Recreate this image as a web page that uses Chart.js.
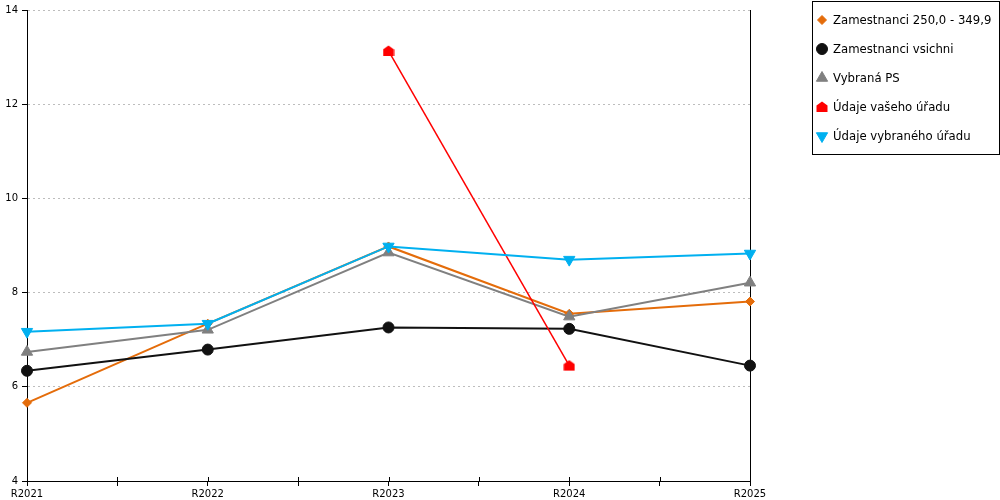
<!DOCTYPE html>
<html>
<head>
<meta charset="utf-8">
<script src="https://cdn.jsdelivr.net/npm/chart.js@4/dist/chart.umd.min.js"></script>
<style>
    body { margin: 0; background: #fff; }
    #wrap { width: 1000px; height: 500px; position: relative; }
</style>
</head>
<body>
<div id="wrap"><canvas id="chart"></canvas></div>
<script>
// Chart values
var categories = ['R2021', 'R2022', 'R2023', 'R2024', 'R2025'];
var zamestnanci250 = [5.66, 7.34, 8.98, 7.55, 7.81];
var zamestnanciVsichni = [6.34, 6.79, 7.26, 7.23, 6.45];
var vybranaPS = [6.74, 7.21, 8.85, 7.49, 8.21];
var udajeVasehoUradu = [null, null, 13.13, 6.45, null];
var udajeVybranehoUradu = [7.17, 7.34, 8.98, 8.70, 8.83];
var yTicks = { min: 4, max: 14, step: 2 };

// Small pentagon ("house") marker for the red series
function houseMarker(color) {
    var c = document.createElement('canvas');
    c.width = 12;
    c.height = 12;
    var g = c.getContext('2d');
    g.fillStyle = color;
    g.beginPath();
    g.moveTo(6, 0.5);
    g.lineTo(11.5, 4.5);
    g.lineTo(11.5, 11);
    g.lineTo(0.5, 11);
    g.lineTo(0.5, 4.5);
    g.closePath();
    g.fill();
    return c;
}

// Turns a plain value list into points for the linear x scale
function toPoints(values) {
    return values.map((v, i) => ({ x: i, y: v }));
}

function series(label, values, color, style, radius, rotation, order, width) {
    return {
        label: label,
        data: toPoints(values),
        borderColor: color,
        backgroundColor: color,
        borderWidth: width,
        pointStyle: style,
        pointRadius: radius,
        pointHoverRadius: radius,
        pointRotation: rotation,
        pointBackgroundColor: color,
        pointBorderColor: color,
        pointBorderWidth: 1,
        tension: 0,
        spanGaps: false,
        clip: false,
        order: order
    };
}

var datasets = [
    series('Zamestnanci 250,0 - 349,9', zamestnanci250, '#e46c0a', 'rectRot', 4.5, 0, 5, 2),
    series('Zamestnanci vsichni', zamestnanciVsichni, '#111111', 'circle', 5.5, 0, 4, 2),
    series('Vybraná PS', vybranaPS, '#808080', 'triangle', 6.5, 0, 3, 2),
    series('Údaje vašeho úřadu', udajeVasehoUradu, '#ff0000', houseMarker('#ff0000'), 6, 0, 2, 1.5),
    series('Údaje vybraného úřadu', udajeVybranehoUradu, '#00b0f0', 'triangle', 6.5, 180, 1, 2)
];

// Draws the frame line on the right, the upper half of the x ticks and the boxed legend
var decorations = {
    id: 'decorations',
    beforeDatasetsDraw(chart) {
        var ctx = chart.ctx;
        var area = chart.chartArea;
        ctx.save();
        ctx.strokeStyle = '#000';
        ctx.lineWidth = 1;

        // right frame line
        ctx.beginPath();
        ctx.moveTo(Math.round(area.right) + 0.5, area.top);
        ctx.lineTo(Math.round(area.right) + 0.5, area.bottom);
        ctx.stroke();

        // x ticks cross the axis line
        var xs = chart.scales.x;
        xs.ticks.forEach((t, i) => {
            var px = Math.round(xs.getPixelForTick(i)) + 0.5;
            ctx.beginPath();
            ctx.moveTo(px, area.bottom - 4);
            ctx.lineTo(px, area.bottom);
            ctx.stroke();
        });
        ctx.restore();
    },
    afterDraw(chart) {
        var ctx = chart.ctx;
        ctx.save();
        ctx.strokeStyle = '#000';
        ctx.lineWidth = 1;

        // legend box
        ctx.strokeRect(812.5, 1.5, 187, 153);
        ctx.font = '11.7px "DejaVu Sans", Verdana, sans-serif';
        ctx.textBaseline = 'middle';
        chart.data.datasets.forEach((ds, i) => {
            var y = 20 + i * 29;
            ctx.fillStyle = ds.pointBackgroundColor;
            ctx.strokeStyle = ds.pointBorderColor;
            Chart.helpers.drawPoint(ctx, {
                pointStyle: ds.pointStyle,
                rotation: ds.pointRotation,
                radius: ds.pointRadius,
                borderWidth: 1
            }, 822, y);
            ctx.fillStyle = '#000';
            ctx.fillText(ds.label, 833, y + 1);
        });
        ctx.restore();
    }
};

Chart.defaults.color = '#000';
Chart.defaults.font.family = '"DejaVu Sans", Verdana, sans-serif';
Chart.defaults.font.size = 10;

var config = {
    type: 'line',
    data: { datasets: datasets },
    options: {
        responsive: true,
        maintainAspectRatio: false,
        devicePixelRatio: 1,
        animation: false,
        layout: { padding: { top: 10, right: 250, left: 0, bottom: 0 } },
        plugins: {
            legend: { display: false },
            tooltip: { enabled: false }
        },
        scales: {
            x: {
                type: 'linear',
                min: 0,
                max: categories.length - 1,
                afterFit: (scale) => { scale.height = 19; },
                ticks: {
                    stepSize: 0.5,
                    autoSkip: false,
                    maxRotation: 0,
                    padding: 2,
                    callback: (v) => Number.isInteger(v) ? categories[v] : ''
                },
                grid: {
                    drawOnChartArea: false,
                    color: '#000',
                    tickLength: 5
                },
                border: { color: '#000', width: 1 }
            },
            y: {
                min: yTicks.min,
                max: yTicks.max,
                afterFit: (scale) => { scale.width = 27; },
                ticks: { stepSize: yTicks.step, padding: 4 },
                grid: {
                    color: '#bdbdbd',
                    lineWidth: 1,
                    tickColor: '#000',
                    tickLength: 5,
                    tickBorderDash: [5, 0]
                },
                // in Chart.js 4 border.dash sets the dash of the grid lines
                border: { color: '#000', width: 1, dash: [2, 3] }
            }
        }
    },
    plugins: [decorations]
};

var chartObj = new Chart(document.getElementById('chart'), config);
</script>
</body>
</html>
